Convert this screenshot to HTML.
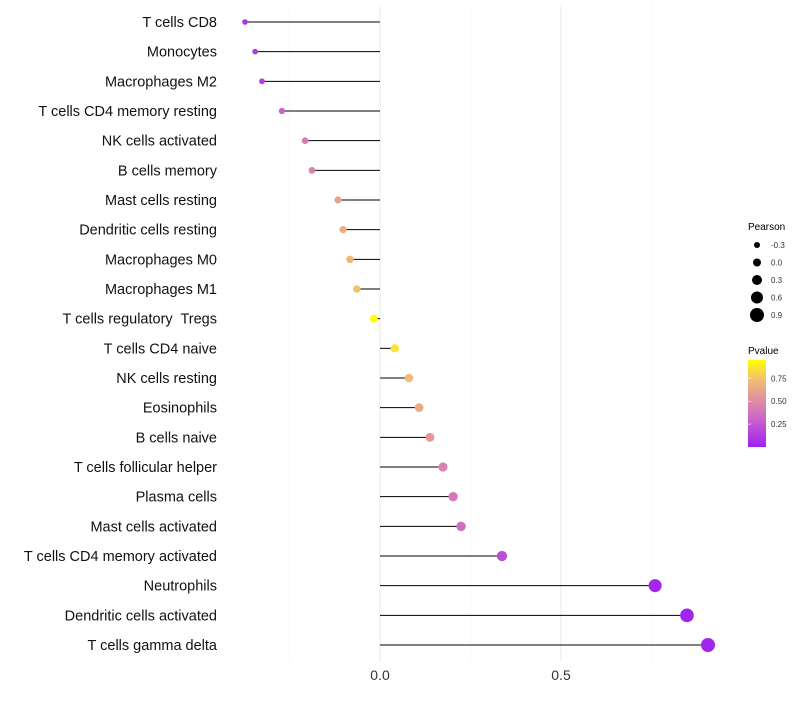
<!DOCTYPE html>
<html><head><meta charset="utf-8"><style>
body{margin:0;background:#fff;font-family:"Liberation Sans",sans-serif}
text{white-space:pre}
</style></head><body>
<svg id="chart" width="800" height="700" xmlns="http://www.w3.org/2000/svg">
<defs><linearGradient id="pg" x1="0" y1="1" x2="0" y2="0">
<stop offset="0" stop-color="#a020f0"/><stop offset="0.33" stop-color="#cc66c8"/><stop offset="0.55" stop-color="#e190a0"/><stop offset="0.78" stop-color="#f2c070"/><stop offset="1" stop-color="#ffff00"/></linearGradient></defs>
<g id="grid"></g><g id="marks"></g><g id="labels"></g><g id="legend"></g>
</svg>
<script>
const categories=["T cells CD8","Monocytes","Macrophages M2","T cells CD4 memory resting","NK cells activated","B cells memory","Mast cells resting","Dendritic cells resting","Macrophages M0","Macrophages M1","T cells regulatory  Tregs","T cells CD4 naive","NK cells resting","Eosinophils","B cells naive","T cells follicular helper","Plasma cells","Mast cells activated","T cells CD4 memory activated","Neutrophils","Dendritic cells activated","T cells gamma delta"];
const pearson=[-0.373,-0.345,-0.326,-0.271,-0.207,-0.188,-0.116,-0.102,-0.083,-0.064,-0.017,0.041,0.080,0.108,0.138,0.174,0.202,0.224,0.337,0.760,0.848,0.906];
const pvalue=[0.08,0.12,0.15,0.3,0.42,0.45,0.62,0.66,0.7,0.75,0.95,0.86,0.72,0.64,0.56,0.46,0.4,0.36,0.2,0.03,0.02,0.02];
const xTicks=[0,0.5];const xTickLabels=["0.0","0.5"];
const sizeLegend=[-0.3,0,0.3,0.6,0.9];const sizeLabels=["-0.3","0.0","0.3","0.6","0.9"];
const pTicks=[0.25,0.5,0.75];const pLabels=["0.25","0.50","0.75"];
const NS="http://www.w3.org/2000/svg";
const x=v=>380+v*362;
const y=i=>22+i*(623/21);
const r=v=>Math.max(1.5,4+v/0.3*1.0);
const stops=[[0,[160,32,240]],[0.33,[204,102,200]],[0.55,[225,144,160]],[0.78,[242,192,112]],[1,[255,255,0]]];
function col(p){const t=Math.min(1,Math.max(0,p/0.95));for(let k=1;k<stops.length;k++){if(t<=stops[k][0]){const a=stops[k-1],b=stops[k];const f=(t-a[0])/(b[0]-a[0]);const c=a[1].map((v,j)=>Math.round(v+(b[1][j]-v)*f));return `rgb(${c})`;}}return "rgb(255,255,0)";}
function mk(tag,at,parent,txt){const e=document.createElementNS(NS,tag);for(const k in at)e.setAttribute(k,at[k]);if(txt!==undefined)e.textContent=txt;document.getElementById(parent).appendChild(e);return e;}
[-0.25,0.25,0.75].forEach(v=>{const l=mk("line",{x1:x(v),x2:x(v),y1:5,y2:662,stroke:"#f2f2f2","stroke-width":0.6},"grid");

});
xTicks.forEach((v,i)=>{const l=mk("line",{x1:x(v),x2:x(v),y1:5,y2:662,stroke:"#ebebeb","stroke-width":1.1},"grid");


const t=mk("text",{x:x(v),y:680,"text-anchor":"middle","font-size":14,fill:"#333"},"labels",xTickLabels[i]);

});
categories.forEach((c,i)=>{
const t=mk("text",{x:217,y:y(i)+5,"text-anchor":"end","font-size":14.5,fill:"#111"},"labels",c);


const l=mk("line",{x1:x(0),x2:x(pearson[i]),y1:y(i),y2:y(i),stroke:"#000","stroke-width":1},"marks");


const d=mk("circle",{cx:x(pearson[i]),cy:y(i),r:r(pearson[i]),fill:col(pvalue[i])},"marks");

});
let t=mk("text",{x:748,y:230,"font-size":10,fill:"#000"},"legend","Pearson");


sizeLegend.forEach((v,i)=>{const cy=245+i*17.5;
const c=mk("circle",{cx:757,cy:cy,r:r(v),fill:"#000"},"legend");


const s=mk("text",{x:771,y:cy+3,"font-size":8,fill:"#333"},"legend",sizeLabels[i]);

});
t=mk("text",{x:748,y:354,"font-size":10,fill:"#000"},"legend","Pvalue");


const bar=mk("rect",{x:748,y:360,width:18,height:87,fill:"url(#pg)"},"legend");


pTicks.forEach((v,i)=>{const yy=447-v/0.95*87;
const s=mk("text",{x:771,y:yy+3,"font-size":8,fill:"#333"},"legend",pLabels[i]);


const k=mk("line",{x1:748,x2:751,y1:yy,y2:yy,stroke:"#fff","stroke-width":0.6},"legend");

});
</script>
</body></html>
